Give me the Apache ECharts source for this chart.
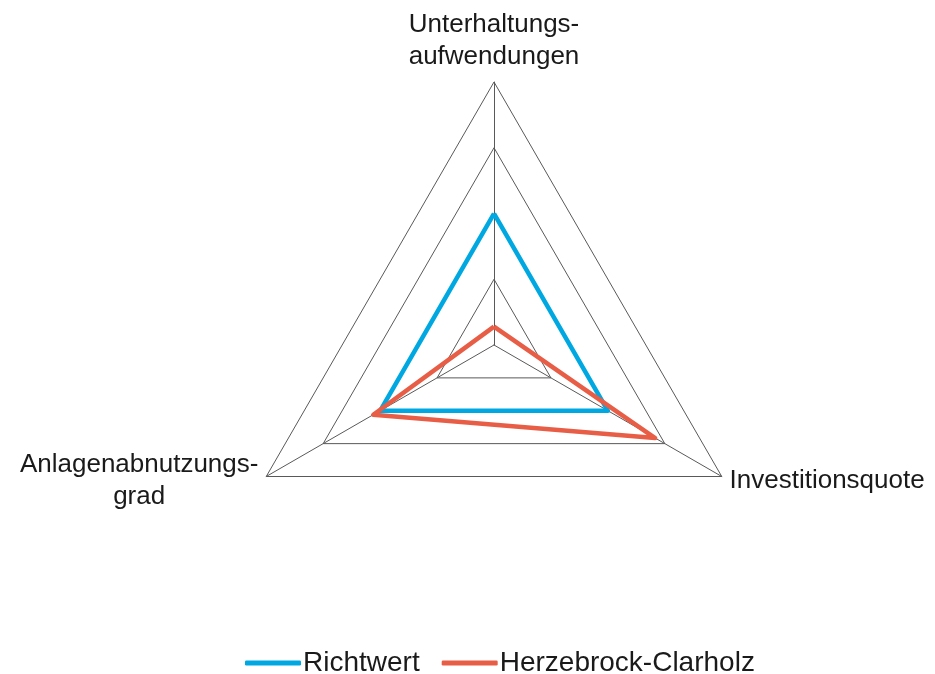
<!DOCTYPE html>
<html>
<head>
<meta charset="utf-8">
<script src="https://cdn.jsdelivr.net/npm/echarts@6/dist/echarts.min.js"></script>
<style>
  html, body { margin: 0; padding: 0; background: #fff; }
  #chart { width: 935px; height: 674px; }
</style>
</head>
<body>
<div id="chart"></div>
<script>
// Achsen (gegen den Uhrzeigersinn ab oben)
const indicatorNames = ['Unterhaltungs-\naufwendungen', 'Anlagenabnutzungs-\ngrad', 'Investitionsquote']
const indicatorMax = [4, 4, 4]

const seriesNames = ['Richtwert', 'Herzebrock-Clarholz']
const richtwert = [2, 2, 2]
const herzebrock = [0.28, 2.12, 2.83]

const myChart = echarts.init(document.querySelector('#chart'))

const option = {
  animation: false,
  textStyle: { fontFamily: 'Liberation Sans, Arial, sans-serif' },
  legend: {
    bottom: -8,
    left: 240,
    itemWidth: 56,
    itemHeight: 5,
    itemGap: 22,
    icon: 'roundRect',
    textStyle: { fontSize: 28, color: '#1a1a1a', padding: [0, 0, 0, -3] },
    data: seriesNames
  },
  radar: {
    center: [494, 345],
    radius: 263,
    shape: 'polygon',
    startAngle: 90,
    splitNumber: 4,
    nameGap: 9,
    indicator: indicatorNames.map((n, i) => ({ name: n, max: indicatorMax[i], min: 0 })),
    axisName: {
      color: '#1a1a1a',
      fontSize: 26,
      // jede Zeile zentriert
      formatter: name => name.split('\n').map(l => '{c|' + l + '}').join('\n'),
      rich: {
        c: { align: 'center', fontSize: 26, lineHeight: 32, color: '#1a1a1a' }
      }
    },
    axisLine: { lineStyle: { color: '#595959', width: 1 } },
    splitLine: { lineStyle: { color: '#595959', width: 1 } },
    splitArea: { show: false }
  },
  series: [
    {
      type: 'radar',
      symbol: 'none',
      data: [
        {
          name: seriesNames[0],
          value: richtwert,
          lineStyle: { color: '#00a8e2', width: 4.5 },
          itemStyle: { color: '#00a8e2' }
        },
        {
          name: seriesNames[1],
          value: herzebrock,
          lineStyle: { color: '#e85d45', width: 4.5 },
          itemStyle: { color: '#e85d45' }
        }
      ]
    }
  ]
}

myChart.setOption(option)
</script>
</body>
</html>
